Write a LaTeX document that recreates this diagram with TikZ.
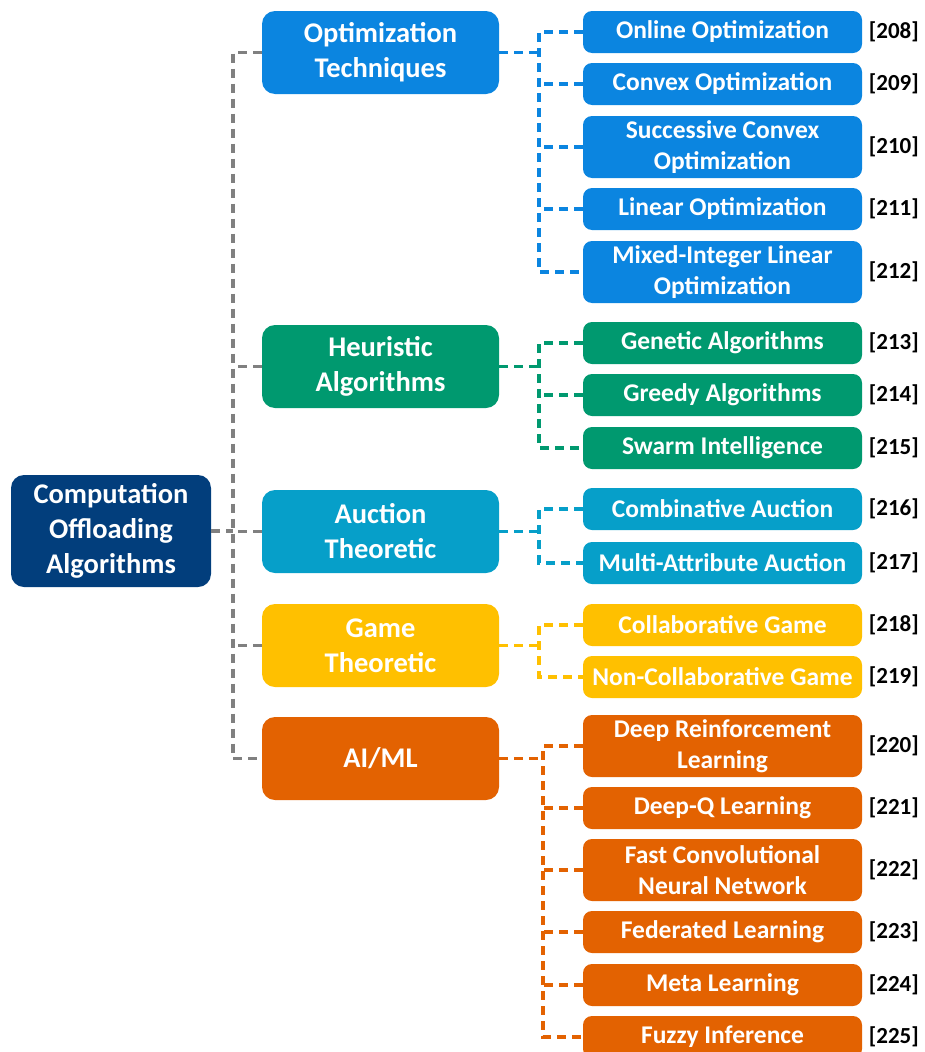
\documentclass[tikz,border=0pt]{standalone}
\usepackage{fontspec}
\setmainfont{Carlito}
\usetikzlibrary{positioning}
\definecolor{rootblue}{HTML}{023E7C}
\definecolor{optblue}{HTML}{0B85E0}
\definecolor{heugreen}{HTML}{00996F}
\definecolor{auccyan}{HTML}{069FC9}
\definecolor{gameyellow}{HTML}{FFC000}
\definecolor{aiorange}{HTML}{E36201}
\definecolor{trunkgray}{HTML}{808080}
\tikzset{
    box/.style={rectangle,rounded corners=13pt,inner sep=0pt,align=center,text=white,font=\bfseries},
    rootbox/.style={box,minimum width=200pt,minimum height=112pt,fill=rootblue,font=\fontsize{28.5}{35}\selectfont\bfseries},
    midbox/.style={box,minimum width=237pt,minimum height=83pt,font=\fontsize{28.5}{35}\selectfont\bfseries},
    leaf/.style={box,rounded corners=9pt,minimum width=279pt,minimum height=42pt,font=\fontsize{25.5}{31}\selectfont\bfseries},
    tall/.style={minimum height=62pt},
    ref/.style={anchor=east,inner sep=0pt,font=\fontsize{23}{25}\selectfont\bfseries},
    link/.style={line width=3.2pt,dash pattern=on 9pt off 6pt}
}

\begin{document}
\begin{tikzpicture}[x=1pt,y=-1pt]
\useasboundingbox (0,0) rectangle (924,1052);
\clip (0,0) rectangle (924,1052);

% root and main branches
\node[rootbox] (root) at (111,531) {Computation\\Offloading\\Algorithms};
\node[midbox,fill=optblue] (opt) at (380.5,52.5) {Optimization\\Techniques};
\node[midbox,fill=heugreen] (heu) at (380.5,366.5) {Heuristic\\Algorithms};
\node[midbox,fill=auccyan] (auc) at (380.5,531.5) {Auction\\Theoretic};
\node[midbox,fill=gameyellow] (game) at (380.5,645.5) {Game\\Theoretic};
\node[midbox,fill=aiorange] (ai) at (380.5,758.5) {AI/ML};

% optimization
\node[leaf,fill=optblue] (online) at (722.5,32) {Online Optimization};
\node[leaf,fill=optblue] (convex) at (722.5,84) {Convex Optimization};
\node[leaf,tall,fill=optblue] (succ) at (722.5,147) {Successive Convex\\Optimization};
\node[leaf,fill=optblue] (linear) at (722.5,209) {Linear Optimization};
\node[leaf,tall,fill=optblue] (mixed) at (722.5,272) {Mixed-Integer Linear\\Optimization};

% heuristic
\node[leaf,fill=heugreen] (genetic) at (722.5,343) {Genetic Algorithms};
\node[leaf,fill=heugreen] (greedy) at (722.5,395) {Greedy Algorithms};
\node[leaf,fill=heugreen] (swarm) at (722.5,448) {Swarm Intelligence};

% auction
\node[leaf,fill=auccyan] (comb) at (722.5,509) {Combinative Auction};
\node[leaf,fill=auccyan] (multi) at (722.5,563) {Multi-Attribute Auction};

% game
\node[leaf,fill=gameyellow] (collab) at (722.5,625) {Collaborative Game};
\node[leaf,fill=gameyellow] (noncollab) at (722.5,677) {Non-Collaborative Game};

% ai/ml
\node[leaf,tall,fill=aiorange] (drl) at (722.5,746) {Deep Reinforcement\\Learning};
\node[leaf,fill=aiorange] (dql) at (722.5,808) {Deep-Q Learning};
\node[leaf,tall,fill=aiorange] (fcnn) at (722.5,870) {Fast Convolutional\\Neural Network};
\node[leaf,fill=aiorange] (fed) at (722.5,932) {Federated Learning};
\node[leaf,fill=aiorange] (meta) at (722.5,985) {Meta Learning};
\node[leaf,fill=aiorange] (fuzzy) at (722.5,1037) {Fuzzy Inference};

% references
\node[ref] (r208) at (919,32) {[208]};
\node[ref] (r209) at (919,84) {[209]};
\node[ref] (r210) at (919,147) {[210]};
\node[ref] (r211) at (919,209) {[211]};
\node[ref] (r212) at (919,272) {[212]};
\node[ref] (r213) at (919,343) {[213]};
\node[ref] (r214) at (919,395) {[214]};
\node[ref] (r215) at (919,448) {[215]};
\node[ref] (r216) at (919,509) {[216]};
\node[ref] (r217) at (919,563) {[217]};
\node[ref] (r218) at (919,625) {[218]};
\node[ref] (r219) at (919,677) {[219]};
\node[ref] (r220) at (919,746) {[220]};
\node[ref] (r221) at (919,808) {[221]};
\node[ref] (r222) at (919,870) {[222]};
\node[ref] (r223) at (919,932) {[223]};
\node[ref] (r224) at (919,985) {[224]};
\node[ref] (r225) at (919,1037) {[225]};

% trunk
\coordinate (trunk) at (233,0);
\draw[link,trunkgray] (opt.west) -- (opt.west -| trunk) |- (ai.west);
\draw[link,trunkgray] (heu.west) -- (heu.west -| trunk);
\draw[link,trunkgray] (auc.west) -- (auc.west -| trunk);
\draw[link,trunkgray] (game.west) -- (game.west -| trunk);
\draw[link,trunkgray] (root.east) -- (root.east -| trunk);

% branch connectors
\coordinate (fork) at (539,0);
\coordinate (aifork) at (543,0);
\draw[link,optblue] (opt.east) -- (opt.east -| fork);
\draw[link,optblue] (online.west) -- (online.west -| fork) |- (mixed.west);
\draw[link,optblue] (convex.west) -- (convex.west -| fork);
\draw[link,optblue] (succ.west) -- (succ.west -| fork);
\draw[link,optblue] (linear.west) -- (linear.west -| fork);

\draw[link,heugreen] (heu.east) -- (heu.east -| fork);
\draw[link,heugreen] (genetic.west) -- (genetic.west -| fork) |- (swarm.west);
\draw[link,heugreen] (greedy.west) -- (greedy.west -| fork);

\draw[link,auccyan] (auc.east) -- (auc.east -| fork);
\draw[link,auccyan] (comb.west) -- (comb.west -| fork) |- (multi.west);

\draw[link,gameyellow] (game.east) -- (game.east -| fork);
\draw[link,gameyellow] (collab.west) -- (collab.west -| fork) |- (noncollab.west);

\draw[link,aiorange] (ai.east) -- (ai.east -| aifork);
\draw[link,aiorange] (drl.west) -- (drl.west -| aifork) |- (fuzzy.west);
\draw[link,aiorange] (dql.west) -- (dql.west -| aifork);
\draw[link,aiorange] (fcnn.west) -- (fcnn.west -| aifork);
\draw[link,aiorange] (fed.west) -- (fed.west -| aifork);
\draw[link,aiorange] (meta.west) -- (meta.west -| aifork);

\end{tikzpicture}
\end{document}
